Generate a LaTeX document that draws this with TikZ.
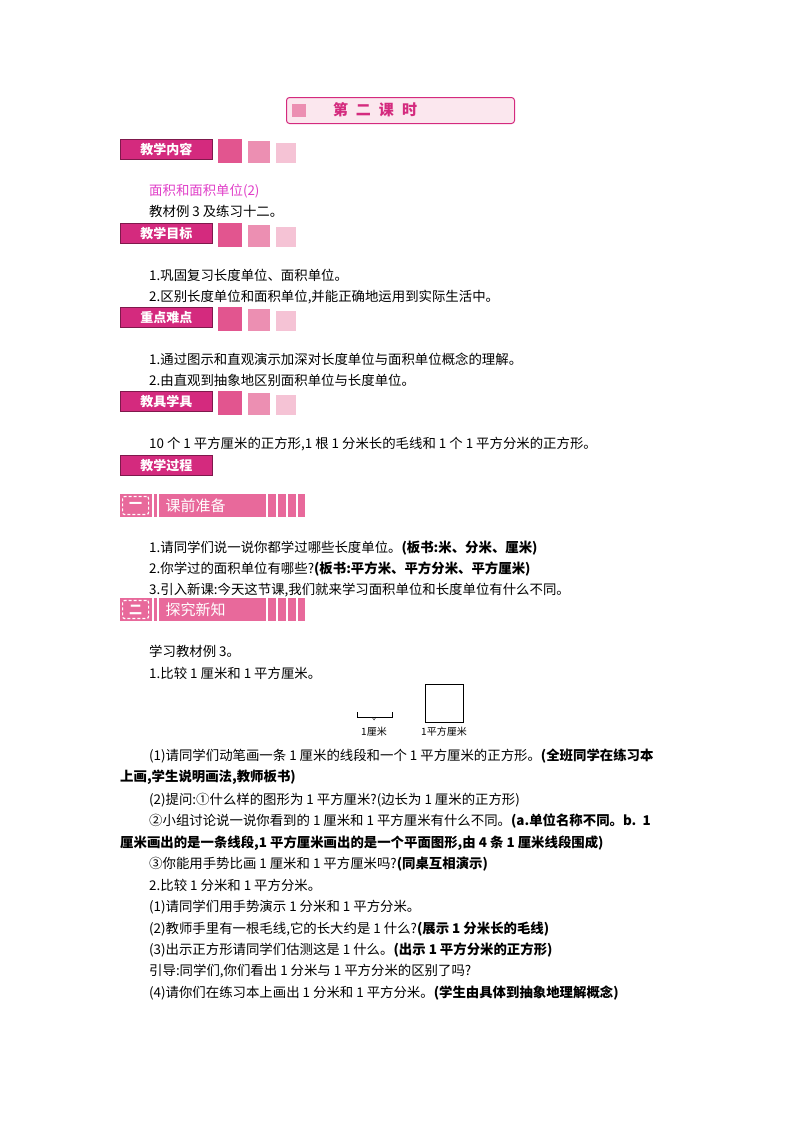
\documentclass[tikz,border=0pt]{standalone}
\usepackage{fontspec}
\setmainfont{Noto Sans CJK SC}
\definecolor{mag}{HTML}{D42A7E}
\definecolor{pk1}{HTML}{E2558F}
\definecolor{pk2}{HTML}{EC8FB2}
\definecolor{pk3}{HTML}{F5C3D5}
\definecolor{bar}{HTML}{E8699B}
\definecolor{lnk}{HTML}{E040C8}
\begin{document}
\begin{tikzpicture}[x=1pt,y=-1pt,
  txt/.style={anchor=base west,inner sep=0pt,font=\fontsize{13.4}{16}\selectfont},
  hbox/.style={fill=mag,draw=mag!60!black,line width=0.6pt,text=white,font=\fontsize{13}{15}\selectfont\bfseries,inner sep=0pt,minimum width=92pt,minimum height=20pt,anchor=north west},
  sq/.style={anchor=north west,minimum width=#1,minimum height=#1,inner sep=0pt}]
\useasboundingbox (0,0) rectangle (800,1132);
% title
\node[draw=mag,line width=1pt,rounded corners=3pt,fill=pk3!40,minimum width=228pt,minimum height=26pt,anchor=north west] (title) at (286,97) {};
\fill[pk2] (292,104) rectangle (306,117);
\node[text=mag,font=\fontsize{15}{18}\selectfont\bfseries] (tt) at (375,110) {第\hspace{8pt}二\hspace{8pt}课\hspace{8pt}时};
% section headers with squares
\foreach \y/\t/\n in {139/教学内容/a,223/教学目标/b,307/重点难点/c,391/教具学具/d}{
  \node[hbox] (h\n) at (120,\y) {\t};
  \node[sq=24pt,fill=pk1] (s1\n) at (218,\y) {};
  \node[sq=22pt,fill=pk2] (s2\n) at (248,\y+2) {};
  \node[sq=20pt,fill=pk3] (s3\n) at (276,\y+4) {};
}
\node[hbox] (he) at (120,455) {教学过程};
% bars
\foreach \y/\num/\t/\n in {494/一/课前准备/f,598/二/探究新知/g}{
  \fill[bar] (120,\y) rectangle (305,\y+23);
  \node[draw=white,line width=1.2pt,densely dashed,fill=bar,rounded corners=2pt,minimum width=26pt,minimum height=18pt,anchor=west,text=white,font=\fontsize{13}{15}\selectfont\bfseries] (n\n) at (122,\y+11.5) {\num};
  \foreach \xx in {153,158,267,277,287,297} \draw[white,line width=1.5pt] (\xx,\y) -- (\xx,\y+23);
  \node[anchor=west,text=white,font=\fontsize{15}{18}\selectfont] (t\n) at (162,\y+11.5) {\t};
}
% texts
\node[txt,text=lnk] (l1) at (149,195) {面积和面积单位(2)};
\node[txt] (l2) at (149,216) {教材例 3 及练习十二。};
\node[txt] (l3) at (149,280) {1.巩固复习长度单位、面积单位。};
\node[txt] (l4) at (149,301) {2.区别长度单位和面积单位,并能正确地运用到实际生活中。};
\node[txt] (l5) at (149,364) {1.通过图示和直观演示加深对长度单位与面积单位概念的理解。};
\node[txt] (l6) at (149,385) {2.由直观到抽象地区别面积单位与长度单位。};
\node[txt] (l7) at (149,448) {10 个 1 平方厘米的正方形,1 根 1 分米长的毛线和 1 个 1 平方分米的正方形。};
\node[txt] (l8) at (149,552) {1.请同学们说一说你都学过哪些长度单位。\textbf{(板书:米、分米、厘米)}};
\node[txt] (l9) at (149,573) {2.你学过的面积单位有哪些?\textbf{(板书:平方米、平方分米、平方厘米)}};
\node[txt] (l10) at (149,594) {3.引入新课:今天这节课,我们就来学习面积单位和长度单位有什么不同。};
\node[txt] (l11) at (149,656) {学习教材例 3。};
\node[txt] (l12) at (149,678) {1.比较 1 厘米和 1 平方厘米。};
% figure
\node[draw,minimum width=38pt,minimum height=38pt,inner sep=0pt,anchor=north west] (sqf) at (425,684) {};
\draw (357,712) -- (357,717) -- (392,717) -- (392,712);
\draw (372,717) -- (374,720) -- (376,717);
\node[font=\fontsize{10}{12}\selectfont] (c1) at (374,732) {1厘米};
\node[font=\fontsize{10}{12}\selectfont] (c2) at (444,732) {1平方厘米};
\node[txt] (m1) at (149,760) {(1)请同学们动笔画一条 1 厘米的线段和一个 1 平方厘米的正方形。\textbf{(全班同学在练习本}};
\node[txt] (m2) at (120,781) {\textbf{上画,学生说明画法,教师板书)}};
\node[txt] (m3) at (149,804) {(2)提问:①什么样的图形为 1 平方厘米?(边长为 1 厘米的正方形)};
\node[txt] (m4) at (149,825) {②小组讨论说一说你看到的 1 厘米和 1 平方厘米有什么不同。\textbf{(\textit{a}.单位名称不同。\textit{b}.\ \ 1}};
\node[txt] (m5) at (120,847) {\textbf{厘米画出的是一条线段,1 平方厘米画出的是一个平面图形,由 4 条 1 厘米线段围成)}};
\node[txt] (m6) at (149,868) {③你能用手势比画 1 厘米和 1 平方厘米吗?\textbf{(同桌互相演示)}};
\node[txt] (m7) at (149,890) {2.比较 1 分米和 1 平方分米。};
\node[txt] (m8) at (149,911) {(1)请同学们用手势演示 1 分米和 1 平方分米。};
\node[txt] (m9) at (149,933) {(2)教师手里有一根毛线,它的长大约是 1 什么?\textbf{(展示 1 分米长的毛线)}};
\node[txt] (m10) at (149,954) {(3)出示正方形请同学们估测这是 1 什么。\textbf{(出示 1 平方分米的正方形)}};
\node[txt] (m11) at (149,975) {引导:同学们,你们看出 1 分米与 1 平方分米的区别了吗?};
\node[txt] (m12) at (149,997) {(4)请你们在练习本上画出 1 分米和 1 平方分米。\textbf{(学生由具体到抽象地理解概念)}};
\end{tikzpicture}
\end{document}
